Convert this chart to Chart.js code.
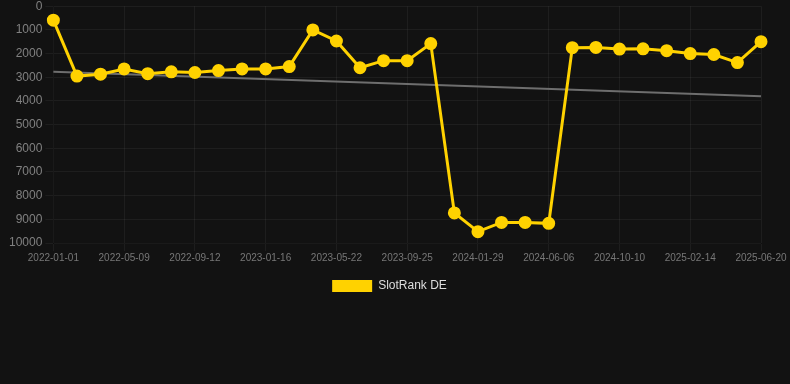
<!DOCTYPE html>
<html>
<head>
<meta charset="utf-8">
<script src="https://cdn.jsdelivr.net/npm/chart.js@4"></script>
<style>
  html, body { margin: 0; padding: 0; background: #121212; overflow: hidden; }
  #wrap { width: 790px; height: 306px; position: relative; margin-top: -4px; }
</style>
</head>
<body>
<div id="wrap"><canvas id="rank"></canvas></div>
<script>
const dates = [
  "2022-01-01", "2022-02-13", "2022-03-27", "2022-05-09", "2022-06-20", "2022-08-01",
  "2022-09-12", "2022-10-24", "2022-12-05", "2023-01-16", "2023-02-27", "2023-04-10",
  "2023-05-22", "2023-07-03", "2023-08-14", "2023-09-25", "2023-11-06", "2023-12-18",
  "2024-01-29", "2024-03-12", "2024-04-24", "2024-06-06", "2024-07-18", "2024-08-29",
  "2024-10-10", "2024-11-21", "2025-01-02", "2025-02-14", "2025-03-28", "2025-05-09",
  "2025-06-20"
];
const rankDE = [
  590, 2950, 2870, 2650, 2850, 2770, 2800, 2720, 2650, 2650, 2550, 1000,
  1470, 2600, 2300, 2300, 1580, 8730, 9520, 9130, 9130, 9170, 1750, 1740,
  1810, 1800, 1880, 2000, 2040, 2380, 1500
];
// trend line: only start and end values
const trendStart = 2770;
const trendEnd = 3800;
const trend = dates.map((d, i) => i === 0 ? trendStart : (i === dates.length - 1 ? trendEnd : null));

const yellow = "#ffd200";
const gridColor = "rgba(255,255,255,0.05)";

Chart.defaults.font.family = "'Liberation Sans', Arial, sans-serif";

// legend sits centred on the canvas, not on the padded area
const legendShift = {
  id: "legendShift",
  afterLayout(chart) {
    if (chart.legend) {
      chart.legend.left += 6;
      chart.legend.right += 6;
    }
  },
};

const ctx = document.getElementById("rank").getContext("2d");
const chart = new Chart(ctx, {
  type: "line",
  data: {
    labels: dates,
    datasets: [
      {
        label: "SlotRank DE",
        data: rankDE,
        borderColor: yellow,
        backgroundColor: yellow,
        borderWidth: 3,
        pointRadius: 5,
        pointHoverRadius: 5,
        pointBackgroundColor: yellow,
        pointBorderColor: yellow,
        tension: 0,
      },
      {
        label: "trend",
        data: trend,
        borderColor: "#6e6e6e",
        borderWidth: 2,
        pointRadius: 0,
        spanGaps: true,
        fill: false,
      },
    ],
  },
  plugins: [legendShift],
  options: {
    animation: false,
    responsive: true,
    maintainAspectRatio: false,
    layout: {
      padding: { left: 6, right: 29, top: 0, bottom: 0 },
    },
    plugins: {
      legend: {
        position: "bottom",
        labels: {
          color: "#dddddd",
          font: { size: 12 },
          boxWidth: 40,
          boxHeight: 12,
          padding: 15,
          filter: (item) => item.text !== "trend",
          generateLabels: (c) => {
            const items = Chart.defaults.plugins.legend.labels.generateLabels(c);
            items.forEach((it) => { it.lineWidth = 0; });
            return items;
          },
        },
      },
      tooltip: { enabled: false },
    },
    scales: {
      x: {
        grid: {
          color: (c) => (c.index % 3 === 0 ? gridColor : "rgba(0,0,0,0)"),
        },
        ticks: {
          color: "#777777",
          font: { size: 10 },
          autoSkip: false,
          maxRotation: 0,
          padding: 1,
          callback: function (val, index) {
            return index % 3 === 0 ? this.getLabelForValue(val) : "";
          },
        },
      },
      y: {
        reverse: true,
        min: 0,
        max: 10000,
        grid: { color: gridColor },
        ticks: {
          color: "#808080",
          font: { size: 12 },
          stepSize: 1000,
          callback: (v) => String(v),
        },
      },
    },
  },
});
</script>
</body>
</html>
